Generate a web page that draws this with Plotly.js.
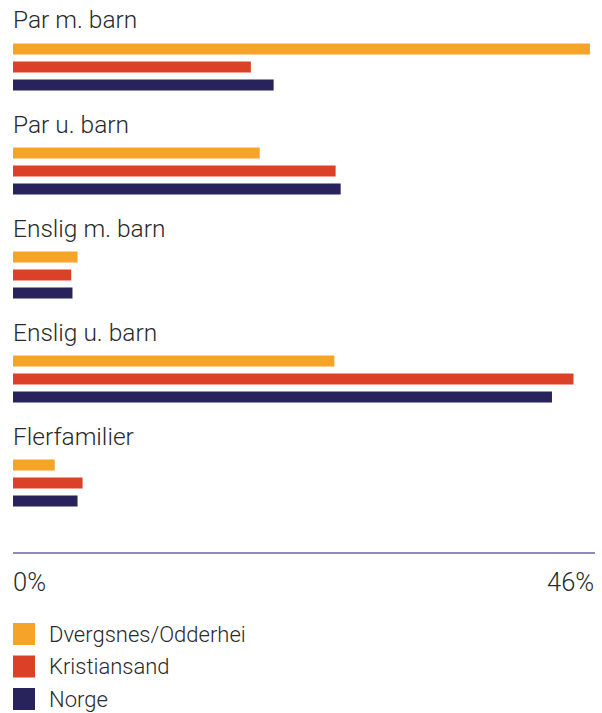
<!DOCTYPE html>
<html>
<head>
<meta charset="utf-8">
<script src="https://cdn.plot.ly/plotly-3.0.1.min.js"></script>
<style>html,body{margin:0;padding:0;background:#fff;}#chart{width:602px;height:713px;}</style>
</head>
<body>
<div id="chart"></div>
<script>
const categories = ["Par m. barn", "Par u. barn", "Enslig m. barn", "Enslig u. barn", "Flerfamilier"];
const seriesNames = ["Dvergsnes/Odderhei", "Kristiansand", "Norge"];
const dvergsnes = [45.6, 19.5, 5.1, 25.4, 3.3];
const kristiansand = [18.8, 25.5, 4.6, 44.3, 5.5];
const norge = [20.6, 25.9, 4.7, 42.6, 5.1];
const tickValues = [0, 46];
const tickLabels = ["0%", "46%"];

const colors = ["#F5A429", "#DB4126", "#28235B"];
const seriesValues = [dvergsnes, kristiansand, norge];
const FONT = "Roboto, Liberation Sans, Arial, sans-serif";
const W = 300;
const TEXT = "#2a2a2a";

const traces = seriesValues.map((vals, i) => ({
  type: "bar",
  orientation: "h",
  name: seriesNames[i],
  x: vals,
  y: categories,
  marker: {color: colors[i], line: {width: 0}},
  showlegend: false,
  hoverinfo: "x+y+name"
}));

const annotations = [];
categories.forEach(c => annotations.push({
  x: 0, xref: "x", xanchor: "left", xshift: -2,
  y: c, yref: "y", yanchor: "middle", yshift: 47,
  text: c, showarrow: false,
  font: {family: FONT, size: 24.5, weight: W, color: TEXT}
}));
tickValues.forEach((v, i) => annotations.push({
  x: v, xref: "x", xanchor: i === 0 ? "left" : "right", xshift: i === 0 ? -2 : 1,
  y: 0, yref: "paper", yanchor: "middle", yshift: -30,
  text: tickLabels[i], showarrow: false,
  font: {family: FONT, size: 25.5, weight: W, color: TEXT}
}));
const shapes = [];
seriesNames.forEach((n, i) => {
  const top = 71 + i * 32.5;
  shapes.push({
    type: "rect", xref: "paper", yref: "paper",
    xsizemode: "pixel", ysizemode: "pixel",
    xanchor: 0, yanchor: 0,
    x0: 0, x1: 22, y0: -top, y1: -(top + 22),
    fillcolor: colors[i], line: {width: 0}
  });
  annotations.push({
    x: 0, xref: "paper", xanchor: "left", xshift: 34,
    y: 0, yref: "paper", yanchor: "middle", yshift: -(top + 11),
    text: n, showarrow: false,
    font: {family: FONT, size: 22, weight: W, color: TEXT}
  });
});

const layout = {
  width: 602, height: 713,
  margin: {l: 13, r: 7, t: 0, b: 161, pad: 0},
  paper_bgcolor: "#fff", plot_bgcolor: "#fff",
  barmode: "group",
  bargap: 0.481,
  bargroupgap: 0.39,
  xaxis: {
    range: [0, 46], showgrid: false, zeroline: false,
    showline: true, linecolor: "#8e8cb3", linewidth: 1.5,
    showticklabels: false, ticks: "", fixedrange: true
  },
  yaxis: {
    type: "category", categoryarray: categories, categoryorder: "array",
    range: [4.663, -0.644],
    showgrid: false, zeroline: false, showline: false,
    showticklabels: false, ticks: "", fixedrange: true
  },
  annotations: annotations,
  shapes: shapes,
  showlegend: false
};

Plotly.newPlot("chart", traces, layout, {displayModeBar: false, staticPlot: true});
</script>
</body>
</html>
